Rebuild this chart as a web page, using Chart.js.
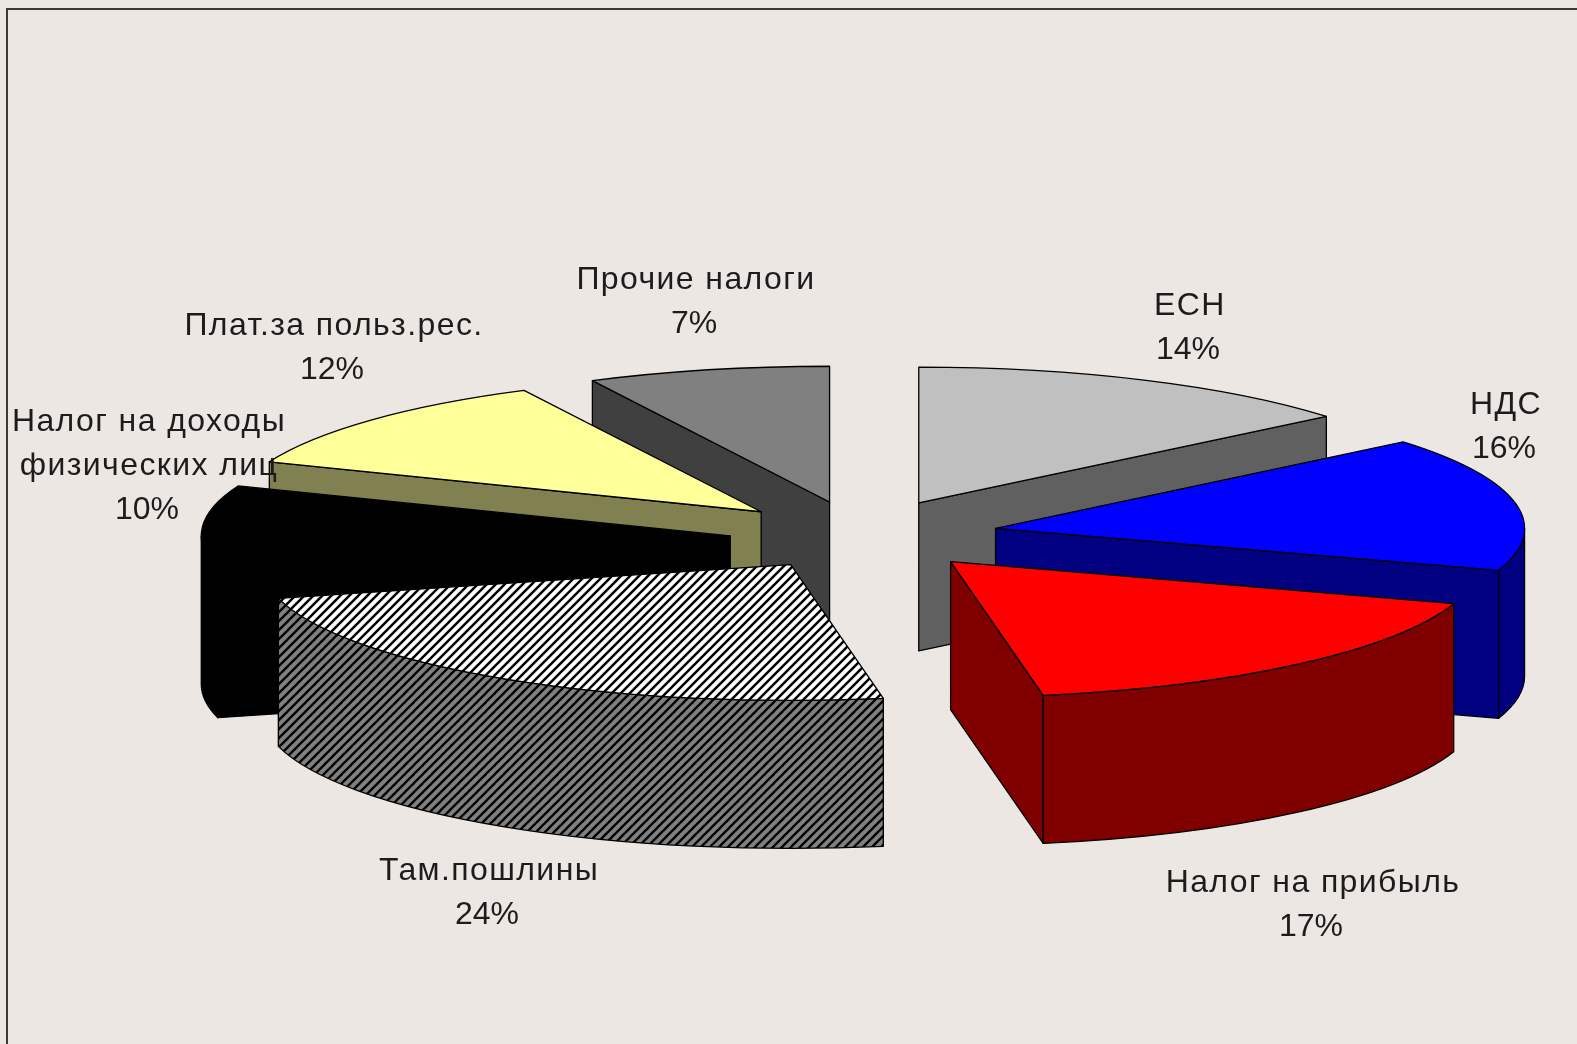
<!DOCTYPE html>
<html>
<head>
<meta charset="utf-8">
<title>Налоги</title>
<script src="https://cdn.jsdelivr.net/npm/chart.js@4/dist/chart.umd.min.js"></script>
<style>
    body { margin: 0; background: #ece7e3; }
    #frame { position: absolute; left: 6px; top: 8px; right: 0; bottom: 0; border-left: 2px solid #3a3a3a; border-top: 2px solid #3a3a3a; }
    canvas { position: absolute; left: 0; top: 0; }
</style>
</head>
<body>
<div id="frame"></div>
<canvas id="grafico" width="1577" height="1044"></canvas>
<script>
// dados, sentido horario a partir do topo
const categorias = ['ЕСН', 'НДС', 'Налог на прибыль', 'Там.пошлины', 'Налог на доходы|физических лиц', 'Плат.за польз.рес.', 'Прочие налоги'];
const valores = [14, 16, 17.2, 23.8, 10, 11.6, 7.4];

const coresTopo = ['#c0c0c0', '#0000ff', '#ff0000', null, '#000000', '#ffff99', '#808080'];
const coresLado = ['#606060', '#000080', '#800000', null, '#000000', '#808050', '#404040'];

// posicao dos rotulos: centro x, linha de base da primeira linha
const posRotulos = [[1190, 315], [1506, 414], [1313, 892], [489, 880], [149, 431], [334, 335], [696, 289]];

// projecao 3D
const centroX = 860;
const centroY = 535;
const achatar = 0.2567;
const raio = 529;
const explodir = [138, 138, 138, 128, 130, 134, 132];
const ajusteY = [0, 0, 0, 2, 3, 0, 0];
const altura = 148;
const ordemDesenho = [0, 6, 5, 1, 4, 2, 3];

function criarHachura(fundo, larguraLinha) {
    const c = document.createElement('canvas');
    c.width = 9;
    c.height = 9;
    const g = c.getContext('2d');
    g.fillStyle = fundo;
    g.fillRect(0, 0, 9, 9);
    g.strokeStyle = '#000';
    g.lineWidth = larguraLinha;
    [[-4.5, 4.5, 4.5, -4.5], [0, 9, 9, 0], [4.5, 13.5, 13.5, 4.5]].forEach(l => {
        g.beginPath();
        g.moveTo(l[0], l[1]);
        g.lineTo(l[2], l[3]);
        g.stroke();
    });
    return g.createPattern(c, 'repeat');
}

const hachuraTopo = criarHachura('#ffffff', 2.5);
const hachuraLado = criarHachura('#808080', 2.3);

function desenharFatia(ctx, arc, i) {
    const meio = (arc.startAngle + arc.endAngle) / 2;
    const ex = Math.cos(meio) * explodir[i];
    const ey = Math.sin(meio) * explodir[i];
    const cx = centroX + ex;
    const cy = centroY + ey * achatar + ajusteY[i];
    const ry = raio * achatar;
    const ini = arc.startAngle;
    const fim = arc.endAngle;
    const pt = a => [cx + Math.cos(a) * raio, cy + Math.sin(a) * ry];
    const corLado = i === 3 ? hachuraLado : coresLado[i];

    ctx.fillStyle = corLado;
    ctx.strokeStyle = '#000';
    ctx.lineWidth = 1.3;
    ctx.lineJoin = 'round';

    // lados retos que ficam virados para quem olha
    [[ini, Math.cos(ini) < -0.001], [fim, Math.cos(fim) > 0.001]].forEach(lado => {
        if (!lado[1]) return;
        const p = pt(lado[0]);
        ctx.beginPath();
        ctx.moveTo(cx, cy);
        ctx.lineTo(p[0], p[1]);
        ctx.lineTo(p[0], p[1] + altura);
        ctx.lineTo(cx, cy + altura);
        ctx.closePath();
        ctx.fill();
        ctx.stroke();
    });

    // parede curva, so a parte da frente
    const de = Math.max(ini, 0);
    const ate = Math.min(fim, Math.PI);
    if (de < ate) {
        ctx.beginPath();
        ctx.ellipse(cx, cy, raio, ry, 0, de, ate);
        ctx.ellipse(cx, cy + altura, raio, ry, 0, ate, de, true);
        ctx.closePath();
        ctx.fill();
        ctx.stroke();
    }

    // topo desenhado pelo proprio ArcElement
    ctx.save();
    ctx.translate(cx, cy);
    ctx.scale(1, achatar);
    ctx.translate(-arc.x, -arc.y);
    if (i === 3) hachuraTopo.setTransform(ctx.getTransform().inverse());
    arc.draw(ctx);
    ctx.restore();

    const p1 = pt(ini);
    ctx.beginPath();
    ctx.moveTo(cx, cy);
    ctx.lineTo(p1[0], p1[1]);
    ctx.ellipse(cx, cy, raio, ry, 0, ini, fim);
    ctx.closePath();
    ctx.stroke();
}

const pizza3d = {
    id: 'pizza3d',
    beforeDatasetsDraw(chart) {
        const ctx = chart.ctx;
        const arcos = chart.getDatasetMeta(0).data;
        ctx.save();
        ordemDesenho.forEach(i => desenharFatia(ctx, arcos[i], i));
        ctx.restore();
        return false;
    },
    afterDraw(chart) {
        const ctx = chart.ctx;
        ctx.save();
        ctx.fillStyle = '#1c1c1c';
        ctx.font = '32px "Liberation Sans"';
        ctx.textAlign = 'center';
        categorias.forEach((nome, i) => {
            const linhas = nome.split('|');
            ctx.letterSpacing = '1.4px';
            linhas.forEach((t, n) => ctx.fillText(t, posRotulos[i][0], posRotulos[i][1] + n * 44));
            // percentual arredondado, como no rotulo original
            ctx.letterSpacing = '0px';
            ctx.fillText(Math.round(valores[i]) + '%', posRotulos[i][0] - 2, posRotulos[i][1] + linhas.length * 44);
        });
        ctx.restore();
    }
};

new Chart(document.querySelector('#grafico'), {
    type: 'pie',
    data: {
        labels: categorias.map(c => c.replace('|', ' ')),
        datasets: [{
            data: valores,
            backgroundColor: coresTopo.map(c => c || hachuraTopo),
            borderWidth: 0
        }]
    },
    options: {
        responsive: false,
        animation: false,
        radius: raio,
        plugins: {
            legend: { display: false },
            tooltip: { enabled: false }
        }
    },
    plugins: [pizza3d]
});
</script>
</body>
</html>
